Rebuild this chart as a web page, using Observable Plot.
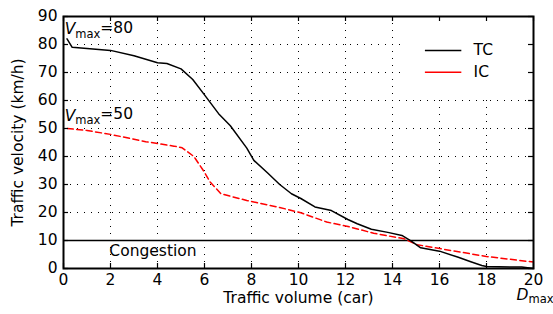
<!DOCTYPE html>
<html>
<head>
<meta charset="utf-8">
<script src="https://cdn.jsdelivr.net/npm/d3@7"></script>
<script src="https://cdn.jsdelivr.net/npm/@observablehq/plot@0.6"></script>
<style>
  html, body { margin: 0; padding: 0; background: #fff; }
  svg { font-family: "DejaVu Sans", sans-serif; }
</style>
</head>
<body>
<div id="chart"></div>
<script>
// ---- data ----
const tcX = [0.15, 0.37, 1, 2, 3, 4, 4.4, 5, 5.5, 6, 6.6, 7.1, 7.8, 8.1, 8.7, 9.2, 9.7, 10.1, 10.7, 11.4, 12.1, 12.5, 13.1, 13.8, 14.4, 14.8, 15.2, 16, 16.8, 17.3, 17.8, 18, 19.5, 20];
const tcY = [82, 79, 78.6, 77.9, 76, 73.5, 73.2, 71.3, 67.5, 62, 55.3, 51, 43, 38.6, 34, 30, 26.7, 25, 22, 20.7, 17.5, 16, 14, 12.9, 11.8, 9.8, 7.4, 6.2, 4, 2.5, 1.1, 0.7, 0.5, 0];
const icX = [0.16, 1, 2, 3.5, 4.7, 5.05, 5.55, 5.95, 6.25, 6.7, 7.8, 9.2, 10.1, 11.2, 12.2, 13.2, 14.5, 15.05, 16.5, 18, 20];
const icY = [50, 49.3, 47.9, 45.3, 43.7, 43.1, 40, 35, 30.8, 26.7, 24.3, 21.8, 19.9, 16.6, 14.8, 12.6, 10.6, 8.5, 6.4, 4.3, 2.3];
const xTicks = [0, 2, 4, 6, 8, 10, 12, 14, 16, 18, 20];
const yTicks = [0, 10, 20, 30, 40, 50, 60, 70, 80, 90];
const xGrid = [2, 4, 6, 8, 10, 12, 14, 16, 18];
const yGrid = [20, 30, 40, 50, 60, 70, 80];
const congestionLevel = [10];
const seriesNames = ["TC", "IC"];
const vmaxLabels = [{x: 0.05, y: 85.4, t: "Vmax=80"}, {x: 0.05, y: 54.6, t: "Vmax=50"}];

const tc = tcX.map((x, i) => ({x, y: tcY[i]}));
const ic = icX.map((x, i) => ({x, y: icY[i]}));
const legend = seriesNames.map((name, i) => ({name, y: 77.9 - i * 7.8}));

const W = 553, H = 314;
const plotH = H - 16 - 46, plotW = W - 63 - 20;
const FS = 15.5;
const FF = "DejaVu Sans, sans-serif";

const chart = Plot.plot({
  width: W, height: H,
  marginLeft: 63, marginRight: 20, marginTop: 16, marginBottom: 46,
  style: {fontFamily: FF, fontSize: FS + "px", background: "#fff", color: "#000"},
  x: {domain: [0, 20], label: null},
  y: {domain: [0, 90], label: null},
  marks: [
    Plot.ruleX(xGrid, {x: d => d, stroke: "#000", strokeWidth: 1, strokeDasharray: "1,6"}),
    Plot.ruleY(yGrid, {y: d => d, stroke: "#000", strokeWidth: 1, strokeDasharray: "1,6"}),
    // legend box background
    Plot.rect([0], {x1: 14.55, x2: 20, y1: 61.5, y2: 90, fill: "#fff"}),
    Plot.ruleY(congestionLevel, {y: d => d, stroke: "#000", strokeWidth: 1.5}),
    Plot.line(ic, {x: "x", y: "y", stroke: "#ff0000", strokeWidth: 1.5, strokeDasharray: "6,3.5"}),
    Plot.line(tc, {x: "x", y: "y", stroke: "#000", strokeWidth: 1.5}),
    Plot.frame({stroke: "#000", strokeWidth: 2}),
    // inward ticks
    Plot.tickX(xTicks, {x: d => d, insetTop: plotH - 5, stroke: "#000", strokeWidth: 1.2}),
    Plot.tickX(xTicks, {x: d => d, insetBottom: plotH - 5, stroke: "#000", strokeWidth: 1.2}),
    Plot.tickY(yTicks, {y: d => d, insetRight: plotW - 5, stroke: "#000", strokeWidth: 1.2}),
    Plot.tickY(yTicks, {y: d => d, insetLeft: plotW - 5, stroke: "#000", strokeWidth: 1.2}),
    Plot.axisX({ticks: xTicks, tickSize: 0, tickPadding: 5, fontSize: FS, tickFormat: d => String(d), fill: "#000"}),
    Plot.axisY({ticks: yTicks, tickSize: 0, tickPadding: 6, fontSize: FS, tickFormat: d => String(d), fill: "#000"}),
    // axis titles
    Plot.text(["Traffic volume (car)"], {frameAnchor: "bottom", text: d => d, dy: 34, textAnchor: "middle", fontSize: FS, fill: "#000"}),
    Plot.text(["Traffic velocity (km/h)"], {frameAnchor: "left", text: d => d, dx: -45, rotate: -90, textAnchor: "middle", fontSize: FS, fill: "#000"}),
    Plot.text(["Dmax"], {x: 20, frameAnchor: "bottom", text: d => d, dx: -17, dy: 31, textAnchor: "start", fontSize: FS, fill: "#000"}),
    // annotations
    Plot.text(vmaxLabels, {x: "x", y: "y", text: "t", textAnchor: "start", fontSize: FS, fill: "#000"}),
    Plot.text(["Congestion"], {x: 1.95, y: 6.2, text: d => d, textAnchor: "start", fontSize: FS, fill: "#000"}),
    // legend
    Plot.ruleY(legend, {y: "y", x1: 15.4, x2: 16.95, stroke: d => d.name === "TC" ? "#000" : "#ff0000", strokeWidth: 1.5, strokeDasharray: d => d.name === "TC" ? null : "6,3.5"}),
    Plot.text(legend, {x: 17.45, y: "y", text: "name", textAnchor: "start", fontSize: FS, fill: "#000"})
  ]
});

// subscripts for Vmax / Dmax
d3.select(chart).selectAll("text").each(function() {
  const el = d3.select(this);
  const s = el.text();
  const m = s.match(/^([VD])max(.*)$/);
  if (m) {
    el.text(null);
    el.append("tspan").attr("font-style", "italic").text(m[1]);
    el.append("tspan").attr("font-size", "11.5px").attr("dy", "0.3em").text("max");
    if (m[2]) el.append("tspan").attr("dy", "-0.3em").text(m[2]);
  }
});

document.getElementById("chart").appendChild(chart);
</script>
</body>
</html>
